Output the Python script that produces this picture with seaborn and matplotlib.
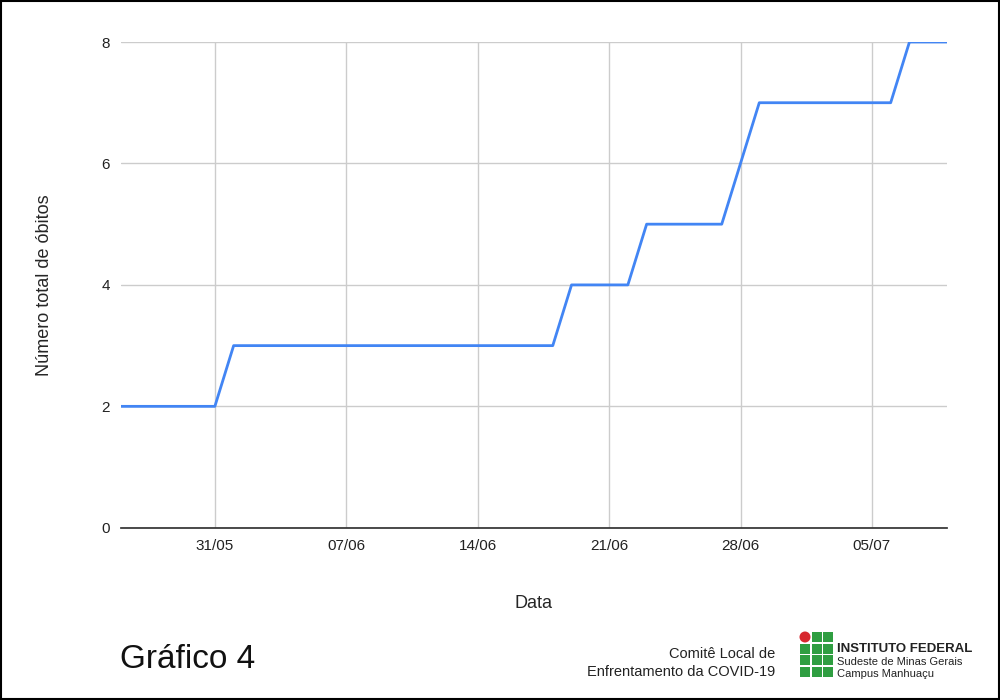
import pandas as pd
import matplotlib.pyplot as plt
import matplotlib.dates as mdates
import seaborn as sns
from matplotlib.patches import Rectangle, Ellipse

# Daily cumulative deaths, 26/05 to 09/07
dates = pd.date_range('2020-05-26', '2020-07-09', freq='D')
obitos = ([2] * 6 + [3] * 18 + [4] * 4 + [5] * 5 + [6] + [7] * 8 + [8] * 3)
tick_dates = pd.to_datetime(['2020-05-31', '2020-06-07', '2020-06-14',
                             '2020-06-21', '2020-06-28', '2020-07-05'])

df = pd.DataFrame({'Data': dates, 'obitos': obitos})

sns.set_theme(style='white')
plt.rcParams['font.family'] = ['Liberation Sans', 'DejaVu Sans']

fig = plt.figure(figsize=(10, 7), dpi=100)
ax = fig.add_axes([0.121, 0.246, 0.826, 0.694])

sns.lineplot(data=df, x='Data', y='obitos', color='#4285f4', linewidth=2, ax=ax)

ax.set_xlim(dates[0], dates[-1])
ax.set_ylim(0, 8)
ax.set_yticks([0, 2, 4, 6, 8])
ax.set_xticks(tick_dates)
ax.xaxis.set_major_formatter(mdates.DateFormatter('%d/%m'))
ax.grid(True, color='#cccccc', linewidth=1)
ax.set_axisbelow(True)
for s in ['top', 'right', 'left']:
    ax.spines[s].set_visible(False)
ax.spines['bottom'].set_color('#333333')
ax.tick_params(axis='both', labelsize=11, colors='#222222', length=0, pad=8)
ax.set_xlabel('Data', fontsize=13, labelpad=30)
ax.set_ylabel('Número total de óbitos', fontsize=13, labelpad=35)

# frame
fig.patches.append(Rectangle((0.001, 0.001), 0.998, 0.998, transform=fig.transFigure,
                             fill=False, edgecolor='black', linewidth=1.5))

fig.text(0.12, 0.045, 'Gráfico 4', fontsize=24, color='#111111')
fig.text(0.775, 0.060, 'Comitê Local de', fontsize=10.5, ha='right', color='#222222')
fig.text(0.775, 0.035, 'Enfrentamento da COVID-19', fontsize=10.5, ha='right', color='#222222')

# logo (pixel coordinates, origin bottom-left)
for r in range(4):
    for c in range(3):
        x = 800 + c * 11.5
        y = 58 - r * 11.5
        if r == 0 and c == 0:
            fig.patches.append(Ellipse((x + 5, y + 5), 11, 11, transform=None,
                                       color='#d7282f', linewidth=0))
        else:
            fig.patches.append(Rectangle((x, y), 10, 10, transform=None,
                                         facecolor='#2f9e41', linewidth=0))
fig.text(0.837, 0.068, 'INSTITUTO FEDERAL', fontsize=9.5, fontweight='bold', color='#222222')
fig.text(0.837, 0.050, 'Sudeste de Minas Gerais', fontsize=8, color='#222222')
fig.text(0.837, 0.033, 'Campus Manhuaçu', fontsize=8, color='#222222')

fig.savefig('out.png', dpi=100)
